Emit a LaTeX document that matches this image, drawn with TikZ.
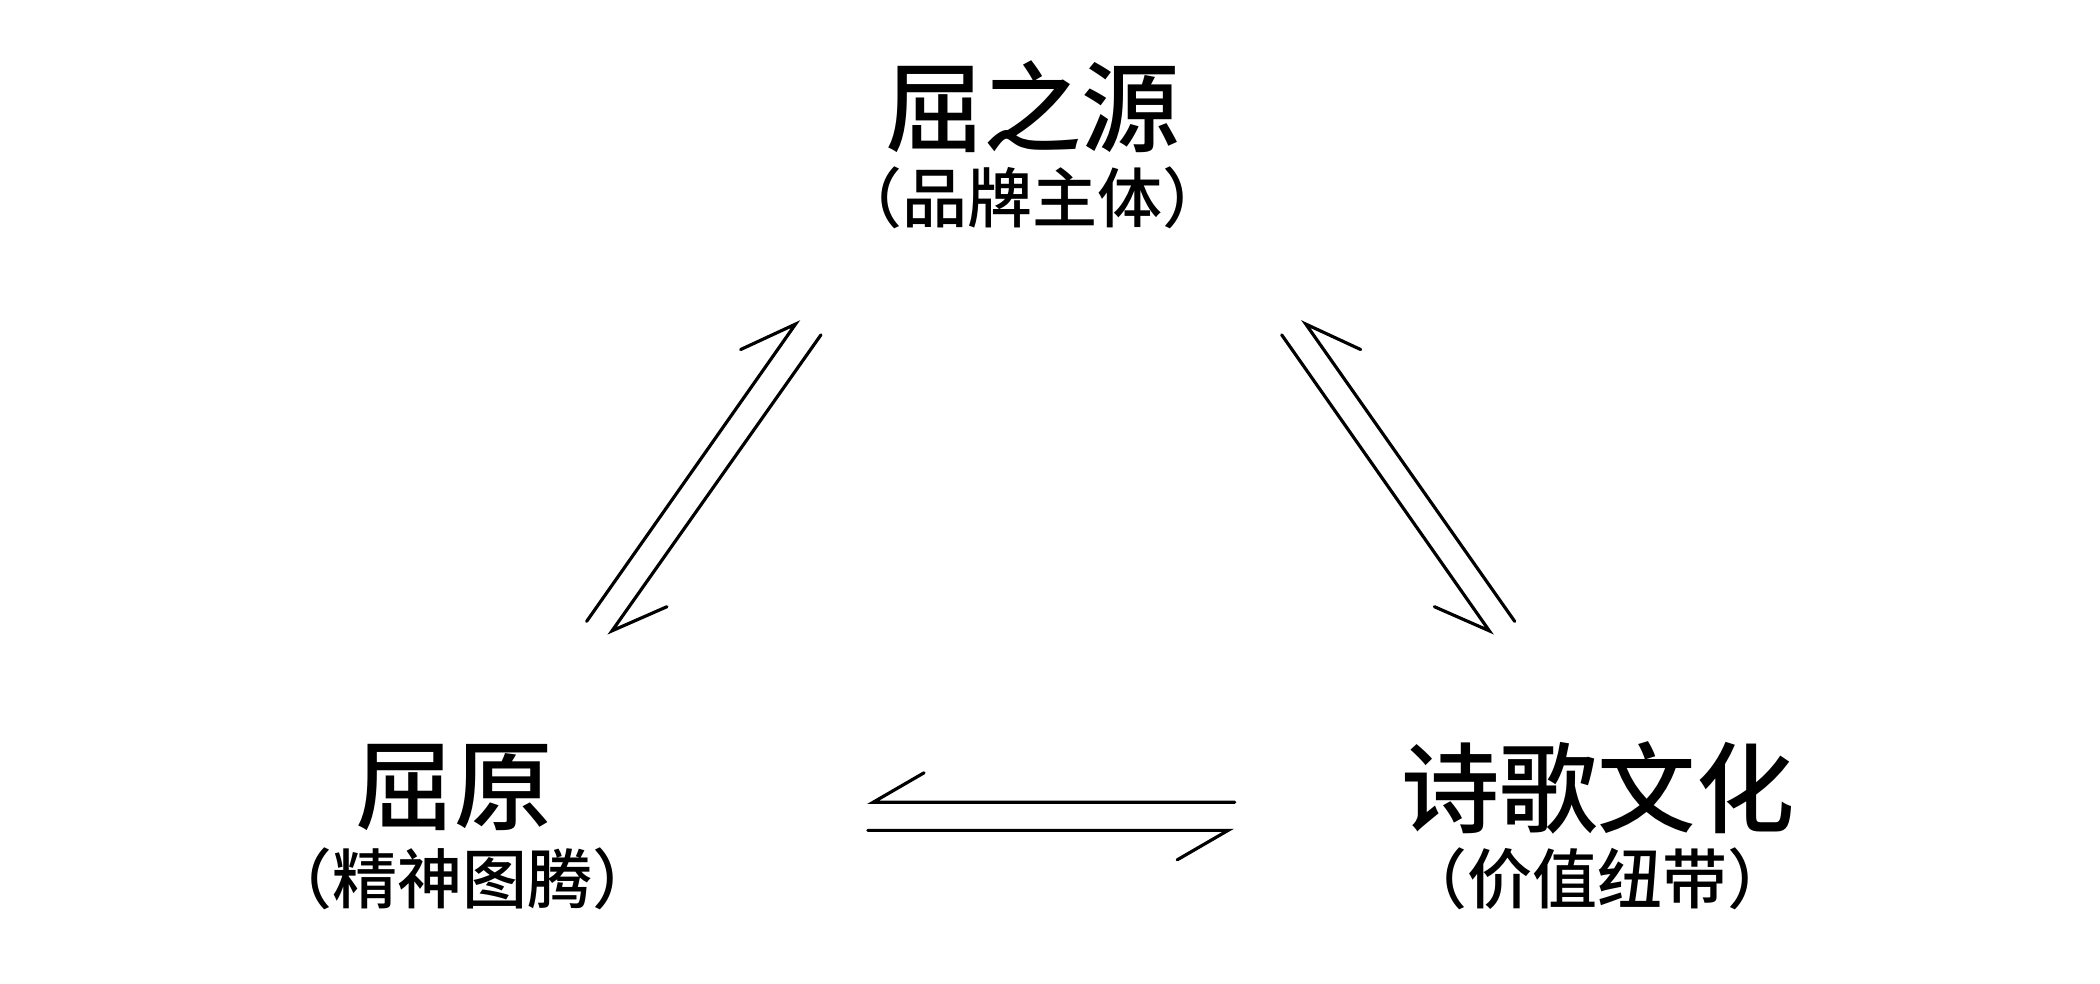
\documentclass[tikz,border=0pt]{standalone}
\usepackage{fontspec}
\newfontfamily\cjkm{Noto Sans CJK SC Medium}
\begin{document}
\begin{tikzpicture}[x=0.01339cm,y=-0.01339cm,
  title/.style={font=\cjkm\fontsize{28}{30}\selectfont,inner sep=0pt},
  sub/.style={font=\cjkm\fontsize{18.5}{20}\selectfont,inner sep=0pt},
  ln/.style={line width=0.9pt,line cap=round}]
\useasboundingbox (0,0) rectangle (1568,734);
\node[title] (t1) at (771,80) {屈之源};
\node[sub] (s1) at (771,148) {（品牌主体）};
\node[title] (t2) at (339,588) {屈原};
\node[sub] (s2) at (345,656) {（精神图腾）};
\node[title] (t3) at (1193,588) {诗歌文化};
\node[sub] (s3) at (1193,656) {（价值纽带）};
% left pair
\coordinate (a1) at (594,242); \coordinate (a2) at (438,464); \coordinate (a3) at (553,261);
\coordinate (b1) at (613,250); \coordinate (b2) at (457,471); \coordinate (b3) at (498,453);
\draw[ln] (a3) -- (a1) -- (a2);
\draw[ln] (b1) -- (b2) -- (b3);
% right pair
\coordinate (c1) at (975,242); \coordinate (c2) at (1131,464); \coordinate (c3) at (1016,261);
\coordinate (d1) at (957,250); \coordinate (d2) at (1112,471); \coordinate (d3) at (1071,453);
\draw[ln] (c3) -- (c1) -- (c2);
\draw[ln] (d1) -- (d2) -- (d3);
% bottom pair
\coordinate (e1) at (652,599); \coordinate (e2) at (922,599); \coordinate (e3) at (690,577);
\coordinate (f1) at (648,620); \coordinate (f2) at (917,620); \coordinate (f3) at (879,642);
\draw[ln] (e3) -- (e1) -- (e2);
\draw[ln] (f1) -- (f2) -- (f3);
\end{tikzpicture}
\end{document}
